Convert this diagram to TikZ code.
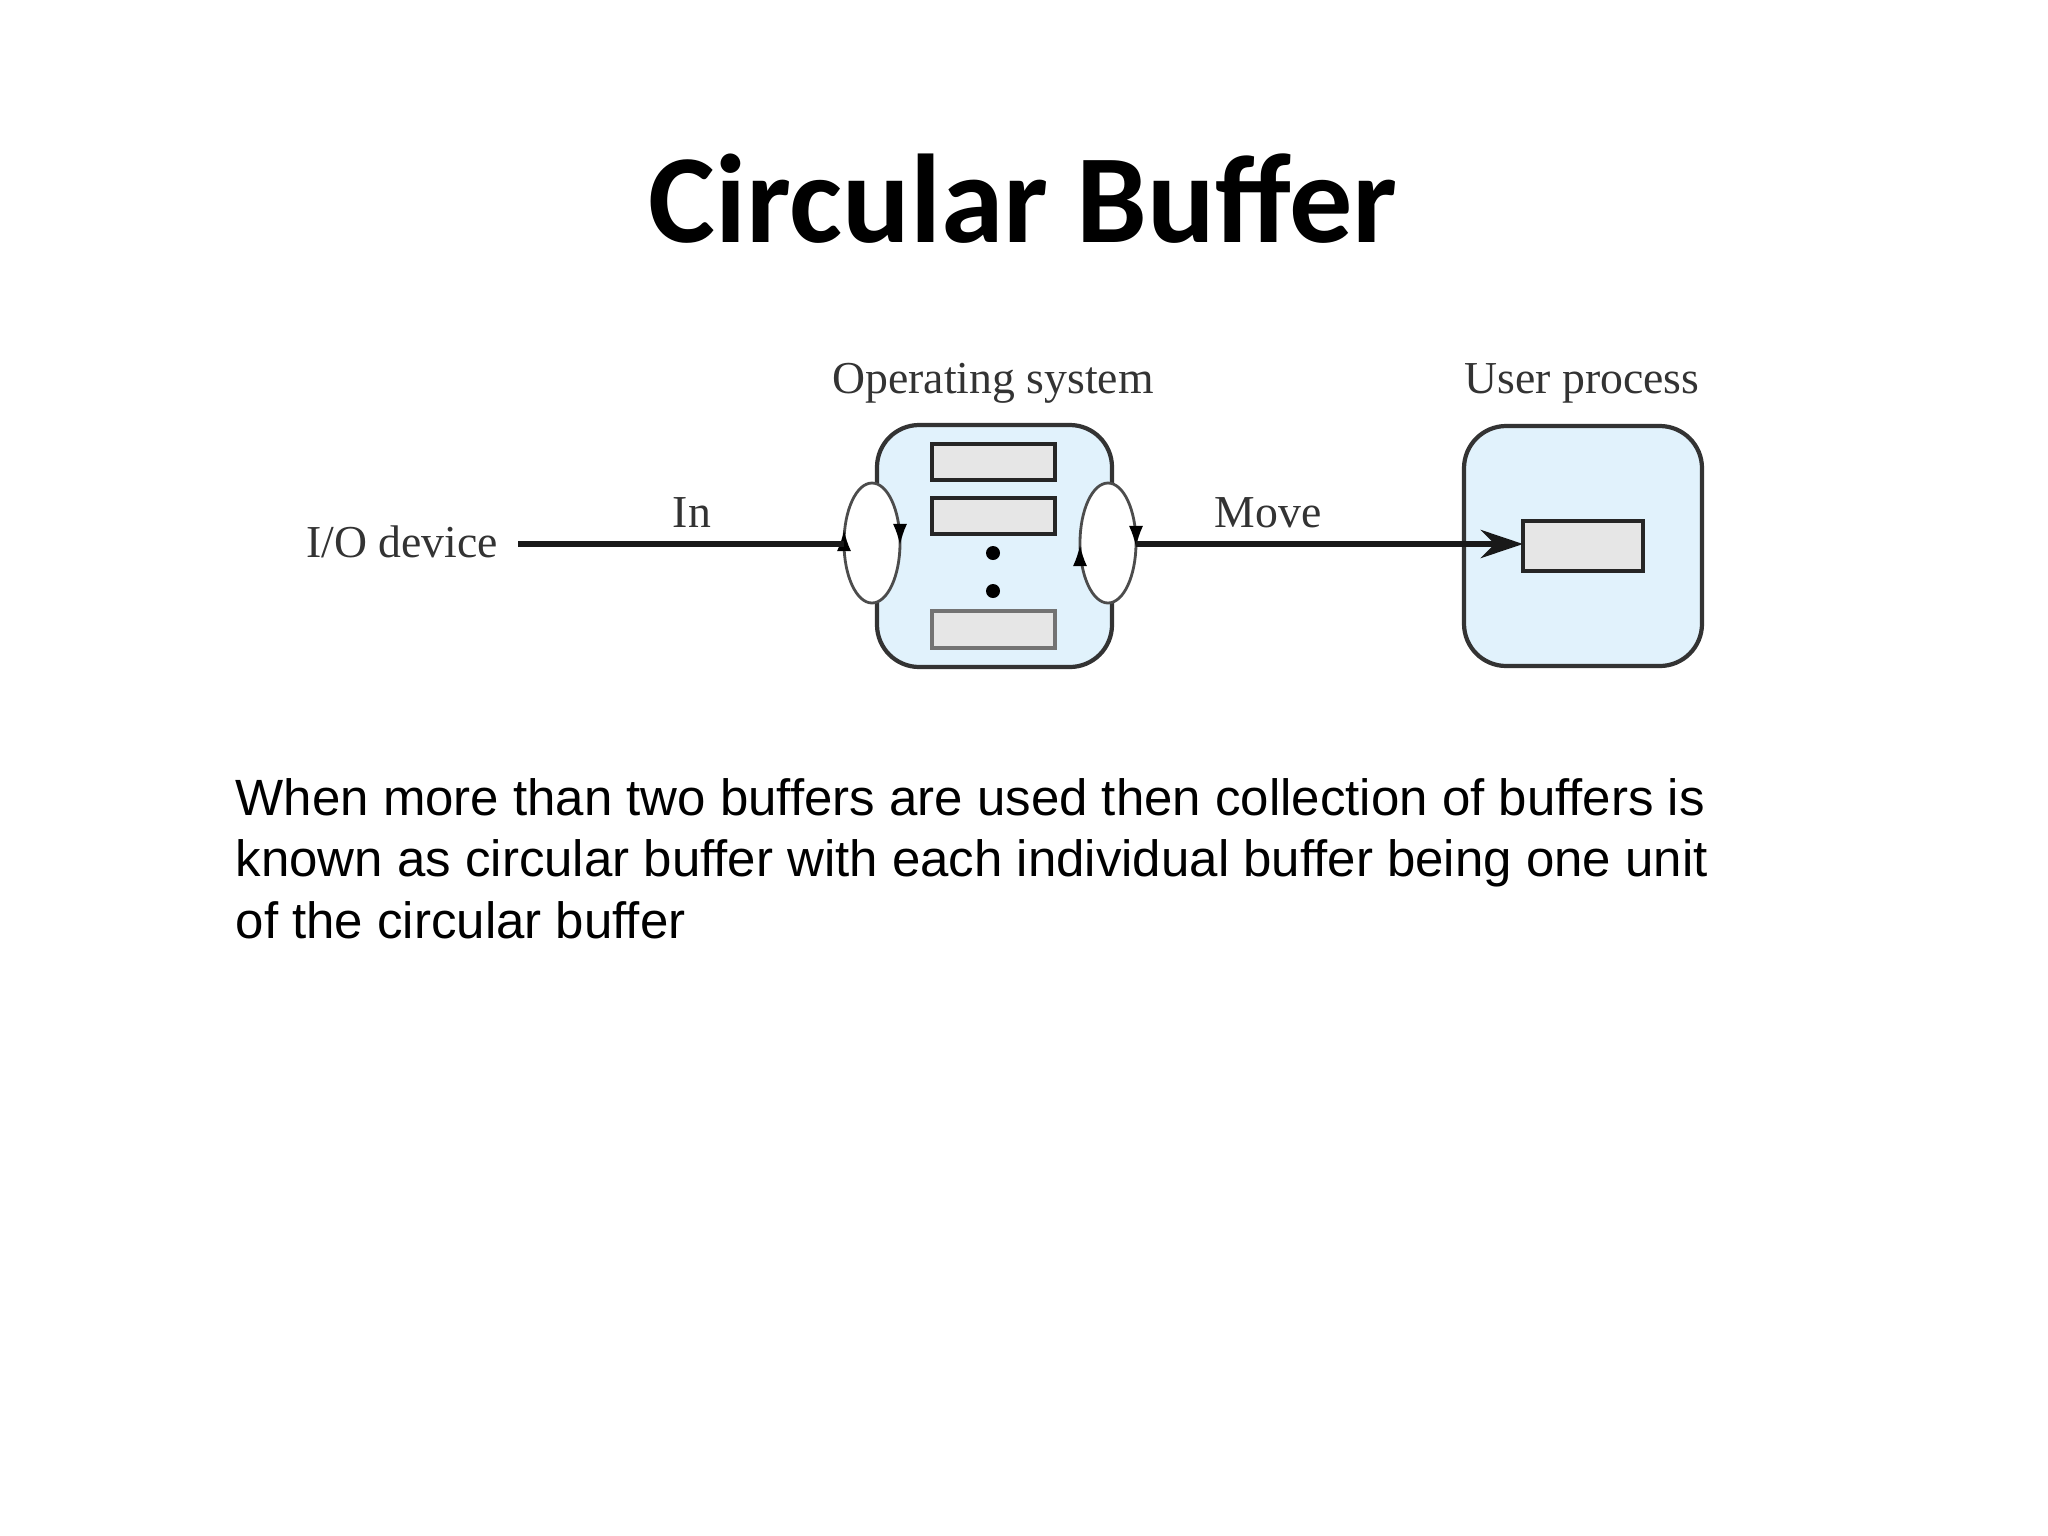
\documentclass[tikz,border=0pt]{standalone}
\usepackage{fontspec}
\setmainfont{Liberation Serif}
\newfontfamily\titlefont{Carlito}
\newfontfamily\bodyfont{Liberation Sans}
\usetikzlibrary{arrows.meta}
\definecolor{boxblue}{HTML}{E1F2FC}
\definecolor{bufgray}{HTML}{E6E6E6}
\definecolor{lblgray}{HTML}{333333}
\tikzset{
  px/.style={x=0.01cm,y=-0.01cm},
  osbox/.style={draw=black!80,line width=1.2pt,fill=boxblue,rounded corners=12pt},
  buf/.style={draw=black!85,line width=1.1pt,fill=bufgray},
  lbl/.style={text=lblgray,font=\fontsize{13}{15}\selectfont,inner sep=0pt},
  loopell/.style={draw=black!70,line width=0.8pt,fill=white},
  conn/.style={line width=1.6pt,black!90},
  tip/.style={-{Latex[length=6pt,width=4pt]},line width=0.6pt}
}
\begin{document}
\begin{tikzpicture}[px]
\useasboundingbox (0,0) rectangle (2048,1536);
\node[font=\titlefont\bfseries\fontsize{35.9}{43}\selectfont] (title) at (1023,199) {Circular Buffer};
% OS box
\draw[osbox] (877,425) rectangle (1112,667);
\node[lbl] (oslbl) at (993,383) {Operating system};
\draw[buf] (932,444) rectangle (1055,480);
\draw[buf] (932,498) rectangle (1055,534);
\draw[buf,draw=black!55] (932,611) rectangle (1055,648);
\fill[black] (993,553) circle (7);
\fill[black] (993,591) circle (7);
% ellipses
\draw[loopell] (872,543) ellipse (28 and 60);
\draw[loopell] (1108,543) ellipse (28 and 60);
\draw[tip] (844,547) -- (844,530);
\draw[tip] (900,528) -- (900,545);
\draw[tip] (1080,562) -- (1080,545);
\draw[tip] (1136,530) -- (1136,547);
% labels and connectors
\node[lbl] (io) at (402,542) {I/O device};
\coordinate (iostart) at (518,544);
\coordinate (inend) at (844,544);
\draw[conn] (iostart) -- (inend);
\node[lbl] (inlbl) at (692,513) {In};
% user box
\draw[osbox] (1464,426) rectangle (1702,666);
\node[lbl] (uplbl) at (1582,383) {User process};
\draw[buf] (1523,521) rectangle (1643,571);
\coordinate (ubuf) at (1523,544);
\coordinate (mvstart) at (1136,544);
\draw[conn,-{Stealth[length=12pt,width=8pt]}] (mvstart) -- (ubuf);
\node[lbl] (mvlbl) at (1268,513) {Move};
% body
\node[anchor=north west,align=left,inner sep=0pt,font=\bodyfont\fontsize{14.5}{17.4}\selectfont] (body) at (235,778)
{When more than two buffers are used then collection of buffers is\\
known as circular buffer with each individual buffer being one unit\\
of the circular buffer};
\end{tikzpicture}
\end{document}
